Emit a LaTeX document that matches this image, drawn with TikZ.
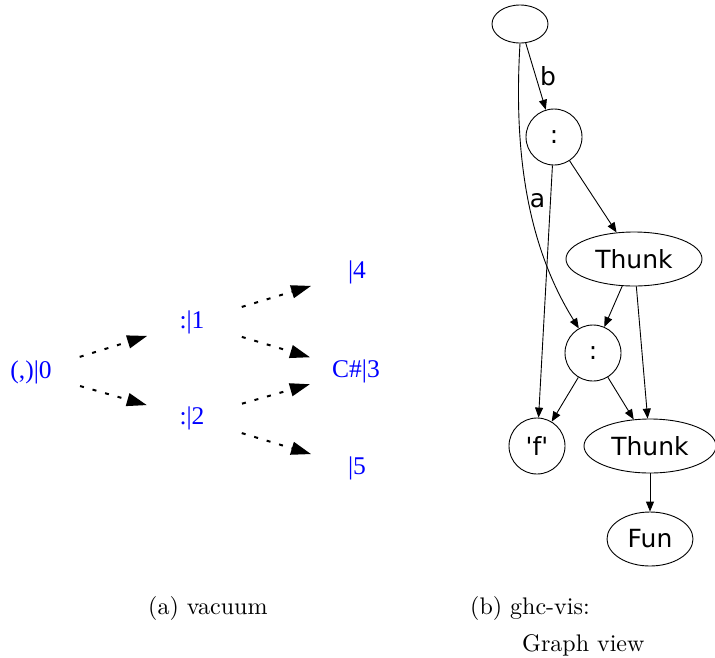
\documentclass[tikz,border=0pt]{standalone}
\usepackage{fontspec}
\newfontfamily\timesfont{Liberation Serif}
\newfontfamily\dejavufont{DejaVu Sans}
\newfontfamily\capfont{lmroman10-regular}[Extension=.otf]
\usetikzlibrary{arrows.meta,shapes.geometric}
\begin{document}
\begin{tikzpicture}[x=1pt,y=-1pt,
  vtext/.style={text=blue,font=\timesfont\fontsize{25.5}{27}\selectfont,inner sep=0pt},
  varrow/.style={line width=2pt,dash pattern=on 4pt off 9pt,
     -{Triangle[length=20pt,width=13pt]}},
  gnode/.style={draw,ellipse,line width=0.9pt,inner sep=0pt,font=\dejavufont\fontsize{25}{27}\selectfont},
  garrow/.style={line width=0.9pt,-{Triangle[length=10pt,width=8pt]}},
  glabel/.style={font=\dejavufont\fontsize{25}{27}\selectfont},
  captext/.style={font=\capfont\fontsize{24}{29}\selectfont,inner sep=0pt}
]
\useasboundingbox (0,0) rectangle (715,657);
% ---- (a) vacuum
\node[vtext] (v0) at (31,372) {(,)|0};
\node[vtext] (v1) at (192,322) {:|1};
\node[vtext] (v2) at (192,418) {:|2};
\node[vtext] (v4) at (357,272) {|4};
\node[vtext] (v3) at (356,371) {C\#|3};
\node[vtext] (v5) at (357,468) {|5};
\draw[varrow,shorten <=51pt,shorten >=47pt] (v0.center) -- (v1.center);
\draw[varrow,shorten <=51pt,shorten >=47pt] (v0.center) -- (v2.center);
\draw[varrow,shorten <=52pt,shorten >=48pt] (v1.center) -- (v4.center);
\draw[varrow,shorten <=52pt,shorten >=48pt] (v1.center) -- (v3.center);
\draw[varrow,shorten <=52pt,shorten >=48pt] (v2.center) -- (v3.center);
\draw[varrow,shorten <=52pt,shorten >=48pt] (v2.center) -- (v5.center);
% ---- (b) ghc-vis
\node[gnode,minimum width=56pt,minimum height=38pt] (top) at (520,24) {};
\node[gnode,circle,minimum size=56pt] (c1) at (554,137) {:};
\node[gnode,minimum width=136pt,minimum height=54pt] (t1) at (634,259) {Thunk};
\node[gnode,circle,minimum size=56pt] (c2) at (593,353) {:};
\node[gnode,circle,minimum size=56pt] (f) at (537,446) {'f'};
\node[gnode,minimum width=132pt,minimum height=54pt] (t2) at (650,446) {Thunk};
\node[gnode,minimum width=86pt,minimum height=54pt] (fun) at (650,539) {Fun};
\draw[garrow] (top) -- node[glabel,pos=0.5,anchor=west,inner sep=4pt] {b} (c1);
\draw[garrow] (top.south) .. controls (513,160) and (530,250) .. node[glabel,pos=0.5,anchor=west,inner sep=1pt] {a} (c2.120);
\draw[garrow] (c1) -- (f);
\draw[garrow] (c1) -- (t1);
\draw[garrow] (t1) -- (c2);
\draw[garrow] (t1) -- (t2);
\draw[garrow] (c2) -- (f);
\draw[garrow] (c2) -- (t2);
\draw[garrow] (t2) -- (fun);
% ---- captions
\node[captext,anchor=base west] (capa) at (148,614) {(a) vacuum};
\node[captext,anchor=base west] (capb) at (470,614) {(b) ghc-vis:};
\node[captext,anchor=base west] (capb2) at (522,651) {Graph view};
\end{tikzpicture}
\end{document}
